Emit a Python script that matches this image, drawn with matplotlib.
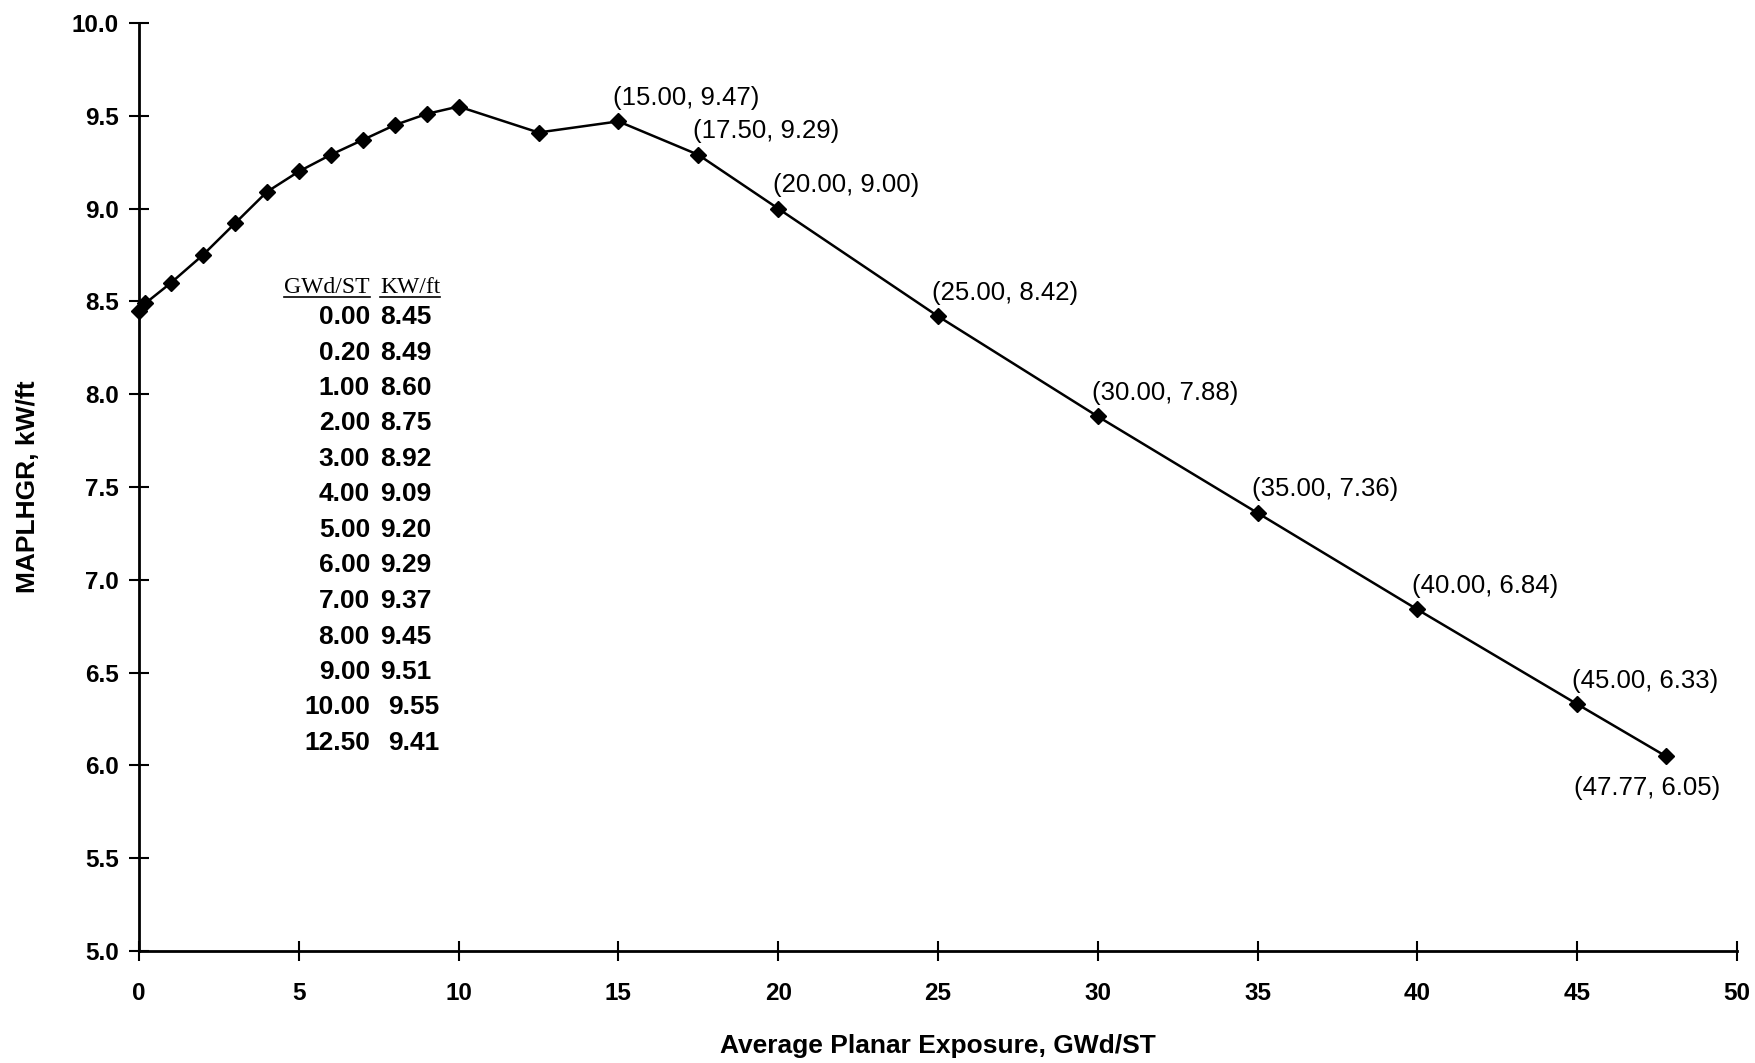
import matplotlib
matplotlib.use("Agg")
import matplotlib.pyplot as plt
from matplotlib.lines import Line2D

# Data
exposure = [0.0, 0.2, 1.0, 2.0, 3.0, 4.0, 5.0, 6.0, 7.0, 8.0, 9.0, 10.0, 12.5,
            15.0, 17.5, 20.0, 25.0, 30.0, 35.0, 40.0, 45.0, 47.77]
maplhgr = [8.45, 8.49, 8.60, 8.75, 8.92, 9.09, 9.20, 9.29, 9.37, 9.45, 9.51, 9.55, 9.41,
           9.47, 9.29, 9.00, 8.42, 7.88, 7.36, 6.84, 6.33, 6.05]
table_count = 13            # first points listed in the inset table
labelled_from = 13          # points annotated with (x, y)
x_ticks = [0, 5, 10, 15, 20, 25, 30, 35, 40, 45, 50]
y_ticks = [5.0, 5.5, 6.0, 6.5, 7.0, 7.5, 8.0, 8.5, 9.0, 9.5, 10.0]
table_headers = ["GWd/ST", "KW/ft"]
x_label = "Average Planar Exposure, GWd/ST"
y_label = "MAPLHGR, kW/ft"

W, H = 1755, 1063
plt.rcParams['font.family'] = ['Liberation Sans', 'DejaVu Sans']
fig = plt.figure(figsize=(W / 100, H / 100), dpi=100)

AX_L, AX_R, AX_T, AX_B = 139, 1737, 23, 951
AW, AH = AX_R - AX_L, AX_B - AX_T
ax = fig.add_axes([AX_L / W, 1 - AX_B / H, AW / W, AH / H])
ax.plot(exposure, maplhgr, color='black', lw=1.8, marker='D', markersize=8.5,
        clip_on=False, zorder=3)

ax.set_xlim(0, 50)
ax.set_ylim(5, 10)
ax.set_xticks(x_ticks)
ax.set_yticks(y_ticks)
ax.set_xticklabels([f"{t:d}" for t in x_ticks], fontsize=17.5, fontweight='bold')
ax.set_yticklabels([f"{t:.1f}" for t in y_ticks], fontsize=17.5, fontweight='bold')
ax.tick_params(axis='both', direction='inout', length=15, width=1.5, color='black')
ax.tick_params(axis='x', pad=15)
ax.tick_params(axis='y', pad=7)
for s in ['top', 'right']:
    ax.spines[s].set_visible(False)
for s in ['left', 'bottom']:
    ax.spines[s].set_linewidth(2)

ax.set_xlabel(x_label, fontsize=19, fontweight='bold')
ax.set_ylabel(y_label, fontsize=19, fontweight='bold')
ax.xaxis.label.set_va('center')
ax.yaxis.label.set_va('center')
ax.xaxis.set_label_coords(0.5, -(1046 - AX_B) / AH)
ax.yaxis.set_label_coords((28 - AX_L) / AW, 0.5)

# Point annotations
for i in range(labelled_from, len(exposure)):
    x, y = exposure[i], maplhgr[i]
    txt = f"({x:.2f}, {y:.2f})"
    if i == len(exposure) - 1:
        off = (-66, -23)
    else:
        off = (-4, 17)
    ax.annotate(txt, (x, y), xytext=off, textcoords='offset points',
                ha='left', va='center', fontsize=18.5)

# Inset table
col1_x = (370 - AX_L) / AW
col2_x = (380 - AX_L) / AW
wide_shift = 8 / AW
row0_y = (AX_B - 317) / AH
row_step = 35.5 / AH
head_y = (AX_B - 293) / AH
h1 = ax.text(col1_x, head_y, table_headers[0], transform=ax.transAxes, ha='right',
             va='baseline', fontsize=17, family='Liberation Serif')
h2 = ax.text(col2_x, head_y, table_headers[1], transform=ax.transAxes, ha='left',
             va='baseline', fontsize=17, family='Liberation Serif')
for i in range(table_count):
    yy = row0_y - i * row_step
    first = f"{exposure[i]:.2f}"
    ax.text(col1_x, yy, first, transform=ax.transAxes, ha='right',
            va='center', fontsize=19, fontweight='bold')
    x2 = col2_x + (wide_shift if len(first) > 4 else 0)
    ax.text(x2, yy, f"{maplhgr[i]:.2f}", transform=ax.transAxes, ha='left',
            va='center', fontsize=19, fontweight='bold')

fig.canvas.draw()
r = fig.canvas.get_renderer()
for h in (h1, h2):
    bb = h.get_window_extent(renderer=r)
    yline = (bb.y0 + 1) / H
    fig.add_artist(Line2D([bb.x0 / W, bb.x1 / W], [yline, yline], color='black', lw=1.2))

fig.savefig("out.png", dpi=100, facecolor='white')
